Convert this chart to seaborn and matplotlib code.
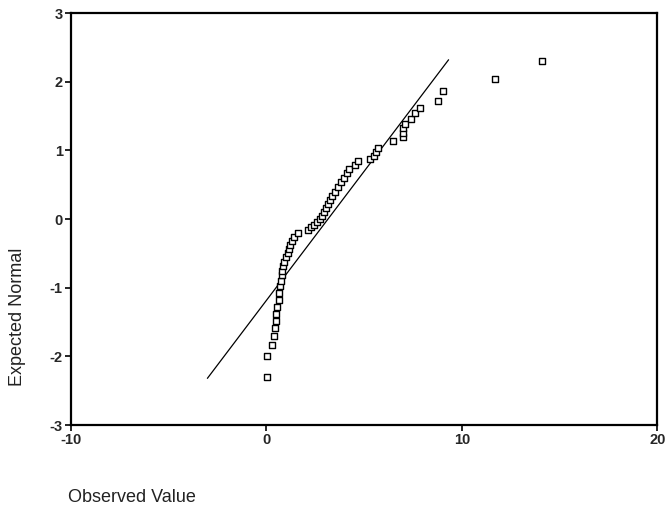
import numpy as np
import pandas as pd
import matplotlib
matplotlib.use("Agg")
import matplotlib.pyplot as plt
import seaborn as sns

# values
observed = [0.05, 0.05, 0.30, 0.40, 0.45, 0.48, 0.50, 0.55, 0.62, 0.65,
            0.68, 0.72, 0.78, 0.82, 0.85, 0.92, 1.00, 1.08, 1.15, 1.22,
            1.30, 1.40, 1.62, 2.15, 2.30, 2.45, 2.60, 2.75, 2.85, 2.95,
            3.05, 3.15, 3.25, 3.35, 3.50, 3.65, 3.80, 3.95, 4.10, 4.20,
            4.55, 4.70, 5.30, 5.50, 5.60, 5.70, 6.50, 7.00, 7.00, 7.00,
            7.10, 7.40, 7.60, 7.85, 8.80, 9.05, 11.70, 14.10]
expected = [-2.30, -2.00, -1.84, -1.70, -1.58, -1.48, -1.38, -1.28, -1.18, -1.08,
            -0.98, -0.90, -0.82, -0.75, -0.68, -0.62, -0.56, -0.50, -0.44, -0.38,
            -0.32, -0.26, -0.20, -0.16, -0.12, -0.08, -0.04, 0.00, 0.05, 0.10,
            0.16, 0.22, 0.28, 0.34, 0.40, 0.47, 0.54, 0.60, 0.67, 0.73,
            0.78, 0.84, 0.88, 0.92, 0.98, 1.04, 1.14, 1.19, 1.25, 1.32,
            1.38, 1.46, 1.54, 1.62, 1.72, 1.87, 2.04, 2.30]

# reference line of the fitted normal
line_mean = 3.15
line_sd = 2.66
line_z = [-2.32, 2.32]

x_ticks = [-10, 0, 10, 20]
y_ticks = [-3, -2, -1, 0, 1, 2, 3]

df = pd.DataFrame({"observed": observed, "expected": expected})

sns.set_style("white")
plt.rcParams["font.family"] = ["Liberation Sans", "DejaVu Sans"]
plt.rcParams["axes.unicode_minus"] = False

fig = plt.figure(figsize=(6.7, 5.13), dpi=100)
ax = fig.add_axes([0.106, 0.1715, 0.875, 0.803])

line_x = [line_mean + line_sd * z for z in line_z]
ax.plot(line_x, line_z, color="black", lw=0.9, zorder=2)

sns.scatterplot(data=df, x="observed", y="expected", ax=ax, marker="s",
                s=20, facecolor="white", edgecolor="black", linewidth=1.0,
                zorder=3, legend=False)

ax.set_xlim(-10, 20)
ax.set_ylim(-3, 3)
ax.set_xticks(x_ticks)
ax.set_yticks(y_ticks)
ax.tick_params(axis="both", which="major", direction="out", length=4,
               width=1.2, color="black", labelsize=10.5, pad=2,
               bottom=True, left=True, top=False, right=False)
for lab in ax.get_xticklabels() + ax.get_yticklabels():
    lab.set_fontweight("bold")
for sp in ax.spines.values():
    sp.set_color("black")
    sp.set_linewidth(1.6)
    sp.set_visible(True)

ax.set_xlabel("")
ax.set_ylabel("")
fig.text(68 / 670, 1 - 497 / 513, "Observed Value", fontsize=13,
         ha="left", va="center", color="#222222")
fig.text(18 / 670, 1 - 317 / 513, "Expected Normal", fontsize=13,
         rotation=90, ha="center", va="center", color="#222222")

fig.savefig("out.png", dpi=100, facecolor="white")
